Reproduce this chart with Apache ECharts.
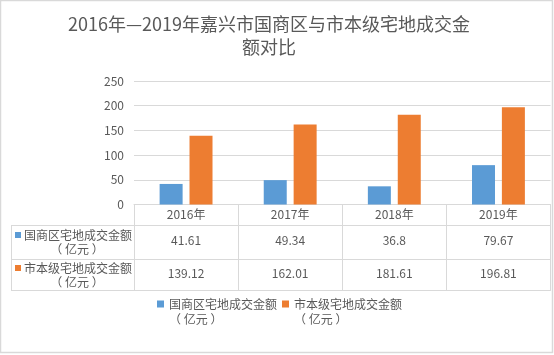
<!DOCTYPE html>
<html><head><meta charset="utf-8">
<script src="https://cdn.jsdelivr.net/npm/echarts@6/dist/echarts.min.js"></script>
<style>html,body{margin:0;padding:0;background:#fff}#c{width:554px;height:355px}</style>
</head><body><div id="c"></div>
<script>
var categories = ['2016年', '2017年', '2018年', '2019年'];
var seriesNames = ['国商区宅地成交金额（亿元）', '市本级宅地成交金额（亿元）'];
var guoshang = [41.61, 49.34, 36.8, 79.67];
var shibenji = [139.12, 162.01, 181.61, 196.81];
var yTicks = [0, 50, 100, 150, 200, 250];

var FONT = '"Microsoft YaHei","Noto Sans CJK SC",sans-serif';
var TXT = '#595959', LINE = '#d9d9d9';
var colors = ['#5b9bd5', '#ed7d31'];

var chart = echarts.init(document.getElementById('c'), null, {renderer: 'canvas'});

function tableAxis(data, offset, tickLen, margin, showLabel) {
  return {
    type: 'category', data: data, position: 'bottom', offset: offset, gridIndex: 0,
    axisLine: {show: true, lineStyle: {color: LINE, width: 1}},
    axisTick: {show: tickLen > 0, length: tickLen, lineStyle: {color: LINE, width: 1}},
    axisLabel: {show: showLabel, margin: margin, verticalAlign: 'middle', color: TXT, fontSize: 12, fontFamily: FONT},
    splitLine: {show: false}
  };
}

function rowLabel(name) {
  var parts = name.split('（');
  return [parts[0], '（ ' + parts[1].replace('）', '') + ' ）'];
}

var graphics = [];
var rowsY = [[235, 249], [268, 282]];
seriesNames.forEach(function (n, i) {
  var l = rowLabel(n);
  graphics.push({type: 'rect', shape: {x: 15, y: rowsY[i][0] - 3, width: 6, height: 6}, style: {fill: colors[i]}});
  graphics.push({type: 'text', x: 24, y: rowsY[i][0], style: {text: l[0], fill: TXT, font: '12px ' + FONT, textVerticalAlign: 'middle'}});
  graphics.push({type: 'text', x: 77, y: rowsY[i][1], style: {text: l[1], fill: TXT, font: '12px ' + FONT, textAlign: 'center', textVerticalAlign: 'middle'}});
});
graphics.push({type: 'line', shape: {x1: 11, y1: 225.5, x2: 134, y2: 225.5}, style: {stroke: LINE, lineWidth: 1}});
graphics.push({type: 'line', shape: {x1: 11, y1: 259.5, x2: 134, y2: 259.5}, style: {stroke: LINE, lineWidth: 1}});
graphics.push({type: 'line', shape: {x1: 11, y1: 290.5, x2: 134, y2: 290.5}, style: {stroke: LINE, lineWidth: 1}});
graphics.push({type: 'line', shape: {x1: 11.5, y1: 225.5, x2: 11.5, y2: 290.5}, style: {stroke: LINE, lineWidth: 1}});
graphics.push({type: 'rect', shape: {x: 0.5, y: 0.5, width: 552, height: 352}, style: {fill: 'none', stroke: LINE, lineWidth: 1.5}});

var option = {
  backgroundColor: '#fff',
  animation: false,
  title: {
    text: '2016年—2019年嘉兴市国商区与市本级宅地成交金\n额对比',
    left: 264, top: 8, textAlign: 'center',
    textStyle: {color: TXT, fontSize: 18, fontWeight: 'normal', fontFamily: FONT, lineHeight: 23}
  },
  legend: {
    left: 157, top: 296.5, padding: 0, itemWidth: 7, itemHeight: 22, itemGap: 5,
    icon: 'path://M0,0H7V7H0Z M0,22L0.001,22Z',
    data: seriesNames,
    formatter: function (n) { var l = rowLabel(n); return l[0] + '\n' + l[1]; },
    textStyle: {color: TXT, fontSize: 12, fontFamily: FONT, lineHeight: 15}
  },
  grid: {left: 134, right: 3.5, top: 81, bottom: 150.5, containLabel: false},
  xAxis: [
    tableAxis(categories, 0, 21, 9.5, true),
    tableAxis(guoshang.map(String), 21, 34, 14.5, true),
    tableAxis(shibenji.map(String), 55, 31, 13.5, true),
    tableAxis(categories, 86, 0, 0, false)
  ],
  yAxis: {
    type: 'value', min: yTicks[0], max: yTicks[yTicks.length - 1], interval: 50,
    axisLine: {show: false}, axisTick: {show: false},
    axisLabel: {color: TXT, fontSize: 12, fontFamily: FONT, margin: 10},
    splitLine: {lineStyle: {color: LINE, width: 1}}
  },
  series: [
    {name: seriesNames[0], type: 'bar', data: guoshang, barWidth: 23, barGap: '30%', itemStyle: {color: colors[0]}},
    {name: seriesNames[1], type: 'bar', data: shibenji, barWidth: 23, barGap: '30%', itemStyle: {color: colors[1]}}
  ],
  graphic: graphics
};
chart.setOption(option);
</script></body></html>
